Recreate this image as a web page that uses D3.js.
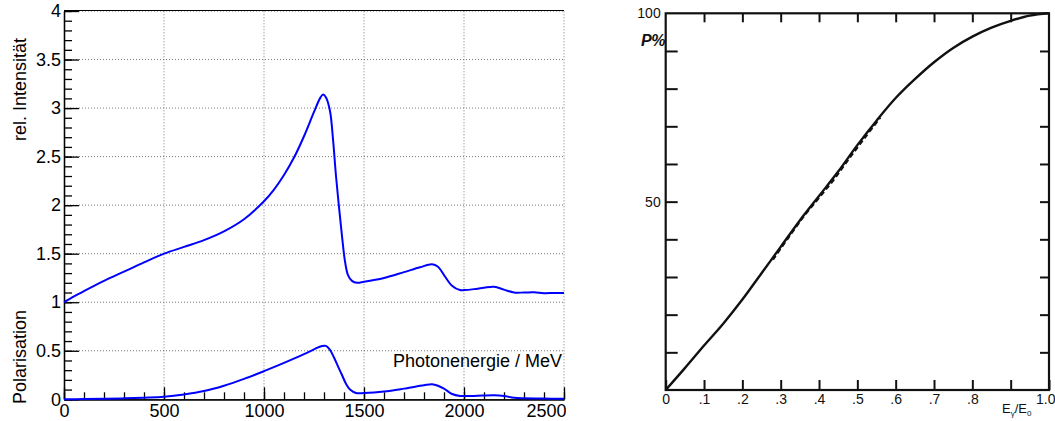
<!DOCTYPE html>
<html>
<head>
<meta charset="utf-8">
<script src="https://cdn.jsdelivr.net/npm/d3@7"></script>
<style>
  body { margin: 0; background: #fff; }
  svg { display: block; }
</style>
</head>
<body>
<svg id="chart" width="1055" height="421"></svg>
<script>
// ---- left plot: rel. intensity and polarisation vs photon energy (MeV)
var energy = [0, 50, 100, 200, 300, 400, 500, 600, 700, 800, 900, 1000, 1050, 1100, 1150, 1200, 1250,
    1280, 1295, 1310, 1330, 1345, 1360, 1375, 1390, 1405, 1420, 1440, 1465, 1500, 1600, 1700, 1780, 1840,
    1870, 1900, 1940, 1980, 2000, 2050, 2100, 2150, 2200, 2250, 2300, 2350, 2400, 2450, 2500];
var intensity = [1.00, 1.06, 1.115, 1.22, 1.315, 1.41, 1.50, 1.57, 1.64, 1.73, 1.855, 2.04, 2.16, 2.31, 2.49, 2.71, 2.96,
    3.10, 3.14, 3.11, 2.97, 2.68, 2.30, 1.98, 1.68, 1.42, 1.28, 1.22, 1.20, 1.21, 1.25, 1.31, 1.36, 1.39,
    1.365, 1.28, 1.17, 1.125, 1.125, 1.135, 1.15, 1.16, 1.13, 1.10, 1.10, 1.102, 1.093, 1.095, 1.095];

var polEnergy = [0, 100, 200, 300, 400, 500, 600, 700, 800, 900, 1000, 1100, 1200, 1250, 1290, 1310, 1330, 1350,
    1370, 1390, 1410, 1430, 1460, 1500, 1600, 1700, 1800, 1840, 1870, 1900, 1940, 1980, 2050, 2150, 2200,
    2250, 2300, 2400, 2500];
var polarisation = [0, 0.002, 0.005, 0.01, 0.017, 0.027, 0.05, 0.085, 0.14, 0.21, 0.29, 0.375, 0.465, 0.515, 0.55, 0.55, 0.51, 0.43,
    0.34, 0.25, 0.16, 0.10, 0.065, 0.065, 0.08, 0.11, 0.145, 0.155, 0.14, 0.11, 0.055, 0.035, 0.035, 0.042, 0.035,
    0.015, 0.01, 0.008, 0.005];

var xMajor = [0, 500, 1000, 1500, 2000, 2500];
var xMinor = d3.range(0, 2501, 100);
var yMajor = [0, 0.5, 1, 1.5, 2, 2.5, 3, 3.5, 4];
var yMinor = d3.range(0, 41).map(function(d) { return d / 10; });

// ---- right plot: P% vs E_gamma/E_0
var ratio = [0, 0.05, 0.1, 0.15, 0.2, 0.25, 0.3, 0.35, 0.4, 0.45, 0.5, 0.55, 0.6, 0.65, 0.7, 0.75, 0.8, 0.85, 0.9, 0.95, 1.0];
var pPercent = [0, 5.8, 11.8, 17.6, 24, 31, 38, 45, 51.5, 58, 65, 71.5, 77.5, 82.5, 87, 90.8, 93.8, 96.2, 98, 99.4, 100];
// dashed second curve, almost on top of the solid one
var dashRatio = [0.28, 0.32, 0.36, 0.4, 0.44, 0.48, 0.52, 0.56];
var dashP = [34.6, 40.4, 46, 51, 56, 61.6, 67, 72.3];

var ratioTicks = [0, 0.1, 0.2, 0.3, 0.4, 0.5, 0.6, 0.7, 0.8, 0.9, 1.0];
var ratioLabels = ["0", ".1", ".2", ".3", ".4", ".5", ".6", ".7", ".8", "", "1.0"];
var pTicks = [10, 20, 30, 40, 50, 60, 70, 80, 90];
var pLabels = [["50", 50], ["100", 100]];

var svg = d3.select("#chart");
svg.append("rect").attr("width", 1055).attr("height", 421).attr("fill", "#fff");

var font = "'Liberation Sans', Arial, Helvetica, sans-serif";

// ================= left plot =================
svg.append("clipPath").attr("id", "leftclip")
    .append("rect").attr("x", 0).attr("y", 0).attr("width", 566).attr("height", 421);

var left = svg.append("g").attr("clip-path", "url(#leftclip)");

var x = d3.scaleLinear().domain([0, 2500]).range([64, 564]);
var y = d3.scaleLinear().domain([0, 4]).range([399.3, 11]);

// dotted grid
left.append("g").selectAll("line")
    .data(xMajor.slice(1))
    .enter().append("line")
    .attr("x1", d => x(d)).attr("x2", d => x(d))
    .attr("y1", y(0)).attr("y2", y(4))
    .attr("stroke", "#777").attr("stroke-width", 1)
    .attr("stroke-dasharray", "1,2");
left.append("g").selectAll("line")
    .data(yMajor.slice(1))
    .enter().append("line")
    .attr("x1", x(0)).attr("x2", x(2500))
    .attr("y1", d => y(d)).attr("y2", d => y(d))
    .attr("stroke", "#777").attr("stroke-width", 1)
    .attr("stroke-dasharray", "1,2");

// top frame
left.append("line")
    .attr("x1", x(0)).attr("x2", x(2500))
    .attr("y1", y(4) - 0.5).attr("y2", y(4) - 0.5)
    .attr("stroke", "#000").attr("stroke-width", 1);

// x axis (ticks point up)
var xAxisMinor = left.append("g")
    .attr("transform", "translate(0," + y(0) + ")")
    .call(d3.axisBottom(x).tickValues(xMinor).tickSize(-7).tickSizeOuter(0).tickFormat(""));
var xAxis = left.append("g")
    .attr("transform", "translate(0," + y(0) + ")")
    .call(d3.axisBottom(x).tickValues(xMajor).tickSize(-12).tickSizeOuter(0).tickPadding(5).tickFormat(d3.format("")));
// last label sits a bit inside, as in the original
xAxis.selectAll(".tick text").filter(d => d === 2500).attr("dx", -18);

// y axis (ticks point right)
var yAxisMinor = left.append("g")
    .attr("transform", "translate(" + x(0) + ",0)")
    .call(d3.axisLeft(y).tickValues(yMinor).tickSize(-8).tickSizeOuter(0).tickFormat(""));
var yAxis = left.append("g")
    .attr("transform", "translate(" + x(0) + ",0)")
    .call(d3.axisLeft(y).tickValues(yMajor).tickSize(-15).tickSizeOuter(0).tickPadding(3).tickFormat(d3.format("")));

[xAxisMinor, xAxis, yAxisMinor, yAxis].forEach(function(a) {
    a.selectAll("path, line").attr("stroke", "#000").attr("stroke-width", 1.3);
    a.selectAll("text").attr("font-family", font).attr("font-size", 18).attr("fill", "#000");
});

// curves
var lineI = d3.line()
    .x((d, i) => x(energy[i]))
    .y(d => y(d))
    .curve(d3.curveCatmullRom.alpha(0.5));
left.append("path")
    .datum(intensity)
    .attr("d", lineI)
    .attr("fill", "none")
    .attr("stroke", "#0000ff")
    .attr("stroke-width", 2);

var lineP = d3.line()
    .x((d, i) => x(polEnergy[i]))
    .y(d => y(d))
    .curve(d3.curveCatmullRom.alpha(0.5));
left.append("path")
    .datum(polarisation)
    .attr("d", lineP)
    .attr("fill", "none")
    .attr("stroke", "#0000ff")
    .attr("stroke-width", 2);

// titles
left.append("text")
    .attr("transform", "translate(26,38) rotate(-90)")
    .attr("text-anchor", "end")
    .attr("font-family", font).attr("font-size", 18)
    .text("rel. Intensität");
left.append("text")
    .attr("transform", "translate(26,310) rotate(-90)")
    .attr("text-anchor", "end")
    .attr("font-family", font).attr("font-size", 18)
    .text("Polarisation");
left.append("text")
    .attr("x", 562).attr("y", 366.5)
    .attr("text-anchor", "end")
    .attr("font-family", font).attr("font-size", 18)
    .text("Photonenergie / MeV");

// ================= right plot =================
var right = svg.append("g");
var xr = d3.scaleLinear().domain([0, 1]).range([665.7, 1049]);
var yr = d3.scaleLinear().domain([0, 100]).range([390, 13.3]);
var ink = "#111";

// frame
right.append("rect")
    .attr("x", xr(0)).attr("y", yr(100))
    .attr("width", xr(1) - xr(0)).attr("height", yr(0) - yr(100))
    .attr("fill", "none").attr("stroke", ink).attr("stroke-width", 2.2);

// ticks: bottom up, top down, left right, right left
var bottomAxis = right.append("g").attr("transform", "translate(0," + yr(0) + ")")
    .call(d3.axisBottom(xr).tickValues(ratioTicks).tickSize(-10).tickSizeOuter(0).tickPadding(4)
        .tickFormat((d, i) => ratioLabels[i]))
    .call(g => g.select(".domain").remove())
    .call(g => g.selectAll("line").attr("stroke", ink).attr("stroke-width", 2))
    .call(g => g.selectAll("text").attr("font-family", font).attr("font-size", 14).attr("fill", ink));
// keep "1.0" inside the picture
bottomAxis.selectAll(".tick text").filter(d => d === 1).attr("text-anchor", "end").attr("x", 6);

right.append("g").attr("transform", "translate(0," + yr(100) + ")")
    .call(d3.axisTop(xr).tickValues(ratioTicks.slice(1, -1)).tickSize(-9).tickSizeOuter(0).tickFormat(""))
    .call(g => g.select(".domain").remove())
    .call(g => g.selectAll("line").attr("stroke", ink).attr("stroke-width", 2));
right.append("g").attr("transform", "translate(" + xr(0) + ",0)")
    .call(d3.axisLeft(yr).tickValues(pTicks).tickSize(-12).tickSizeOuter(0).tickFormat(""))
    .call(g => g.select(".domain").remove())
    .call(g => g.selectAll("line").attr("stroke", ink).attr("stroke-width", 2));
right.append("g").attr("transform", "translate(" + xr(1) + ",0)")
    .call(d3.axisRight(yr).tickValues(pTicks).tickSize(-9).tickSizeOuter(0).tickFormat(""))
    .call(g => g.select(".domain").remove())
    .call(g => g.selectAll("line").attr("stroke", ink).attr("stroke-width", 2));

// y labels
right.append("g").selectAll("text")
    .data(pLabels)
    .enter().append("text")
    .attr("x", xr(0) - 5)
    .attr("y", d => yr(d[1]))
    .attr("dy", "0.35em")
    .attr("text-anchor", "end")
    .attr("font-family", font).attr("font-size", 14).attr("fill", ink)
    .text(d => d[0]);

right.append("text")
    .attr("x", 641).attr("y", 46)
    .attr("font-family", font).attr("font-size", 16)
    .attr("font-weight", "bold").attr("font-style", "italic").attr("fill", ink)
    .attr("letter-spacing", "-0.5")
    .text("P%");

// axis label E_gamma / E_0
var lab = right.append("text")
    .attr("x", 1002).attr("y", 413)
    .attr("font-family", font).attr("font-size", 13).attr("fill", ink);
lab.append("tspan").text("E");
lab.append("tspan").attr("font-size", 8).attr("dy", 3).text("γ");
lab.append("tspan").attr("dy", -3).text("/E");
lab.append("tspan").attr("font-size", 8).attr("dy", 3).text("0");

// curve
var lineR = d3.line()
    .x((d, i) => xr(ratio[i]))
    .y(d => yr(d))
    .curve(d3.curveCatmullRom.alpha(0.5));
right.append("path")
    .datum(pPercent)
    .attr("d", lineR)
    .attr("fill", "none")
    .attr("stroke", ink)
    .attr("stroke-width", 2.4);

var lineD = d3.line()
    .x((d, i) => xr(dashRatio[i]))
    .y(d => yr(d))
    .curve(d3.curveCatmullRom.alpha(0.5));
right.append("path")
    .datum(dashP)
    .attr("d", lineD)
    .attr("fill", "none")
    .attr("stroke", ink)
    .attr("stroke-width", 2)
    .attr("stroke-dasharray", "5,3");
</script>
</body>
</html>
